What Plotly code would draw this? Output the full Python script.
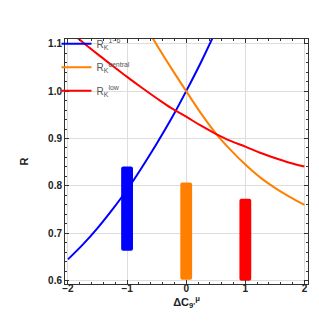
import plotly.graph_objects as go

# Curves
x_grid = [-2.0, -1.75, -1.5, -1.25, -1.0, -0.75, -0.5, -0.25, 0.0, 0.25, 0.5, 0.75, 1.0, 1.25, 1.5, 1.75, 2.0]
r_16 = [0.645, 0.676, 0.711, 0.750, 0.792, 0.839, 0.889, 0.942, 1.000, 1.061, 1.127, None, None, None, None, None, None]
r_central = [None, None, None, None, None, 1.150, 1.098, 1.048, 1.000, 0.953, 0.911, 0.876, 0.845, 0.818, 0.796, 0.777, 0.760]
r_low = [1.130, 1.103, 1.078, 1.054, 1.030, 1.007, 0.985, 0.964, 0.946, 0.927, 0.910, 0.895, 0.883, 0.870, 0.859, 0.849, 0.841]

# Measured ranges (bars)
bar_x = [-1, 0, 1]
bar_low = [0.663, 0.602, 0.600]
bar_high = [0.841, 0.807, 0.773]

blue = "#0000FF"
orange = "#FF8000"
red = "#FF0000"
bar_colors = [blue, orange, red]

names = ["R<sub>K</sub><sup>1−6</sup>", "R<sub>K</sub><sup>central</sup>", "R<sub>K</sub><sup>low</sup>"]

fig = go.Figure()

fig.add_trace(go.Bar(
    x=bar_x,
    y=[h - l for h, l in zip(bar_high, bar_low)],
    base=bar_low,
    width=0.2,
    marker=dict(color=bar_colors, line=dict(width=0)),
    showlegend=False,
    hoverinfo="skip",
))

for ys, col, nm, grp in [(r_16, blue, names[0], "a"), (r_central, orange, names[1], "b"), (r_low, red, names[2], "c")]:
    fig.add_trace(go.Scatter(
        x=x_grid, y=ys, mode="lines", name=nm, legendgroup=grp,
        line=dict(color=col, width=2, shape="spline"),
    ))

tickfont = dict(family="Liberation Sans", size=10, color="#222", weight="bold")
axis_common = dict(
    showline=True, linecolor="#333", linewidth=1, mirror="ticks",
    ticks="inside", ticklen=4, tickcolor="#333", tickwidth=1,
    showgrid=True, gridcolor="#dddddd", gridwidth=1, zeroline=False,
    tickfont=tickfont,
)

fig.update_layout(
    width=319, height=321,
    margin=dict(l=57, r=19, t=31, b=45),
    plot_bgcolor="white", paper_bgcolor="white",
    barcornerradius=2,
    xaxis=dict(range=[-2.05, 2.06], tickmode="array", tickvals=[-2, -1, 0, 1, 2],
               minor=dict(ticks="inside", dtick=0.2, ticklen=2, tickcolor="#333", showgrid=False),
               ticklabelstandoff=-5,
               title=dict(text="ΔC<sub>9'</sub><sup>μ</sup>", font=dict(family="Liberation Sans", size=11, color="#222", weight="bold"), standoff=4),
               **axis_common),
    yaxis=dict(range=[0.593, 1.11], tickmode="array", tickvals=[0.6, 0.7, 0.8, 0.9, 1.0, 1.1],
               ticktext=["0.6", "0.7", "0.8", "0.9", "1.0", "1.1"],
               minor=dict(ticks="inside", dtick=0.02, ticklen=2, tickcolor="#333", showgrid=False),
               title=dict(text="R", font=dict(family="Liberation Sans", size=11, color="#222", weight="bold"), standoff=17),
               **axis_common),
    legend=dict(x=-0.035, y=1.04, xanchor="left", yanchor="top", bgcolor="rgba(0,0,0,0)",
                font=dict(family="Liberation Sans", size=10, color="#555"),
                tracegroupgap=4.5, traceorder="grouped"),
    showlegend=True,
)

fig.write_html("out.html")
